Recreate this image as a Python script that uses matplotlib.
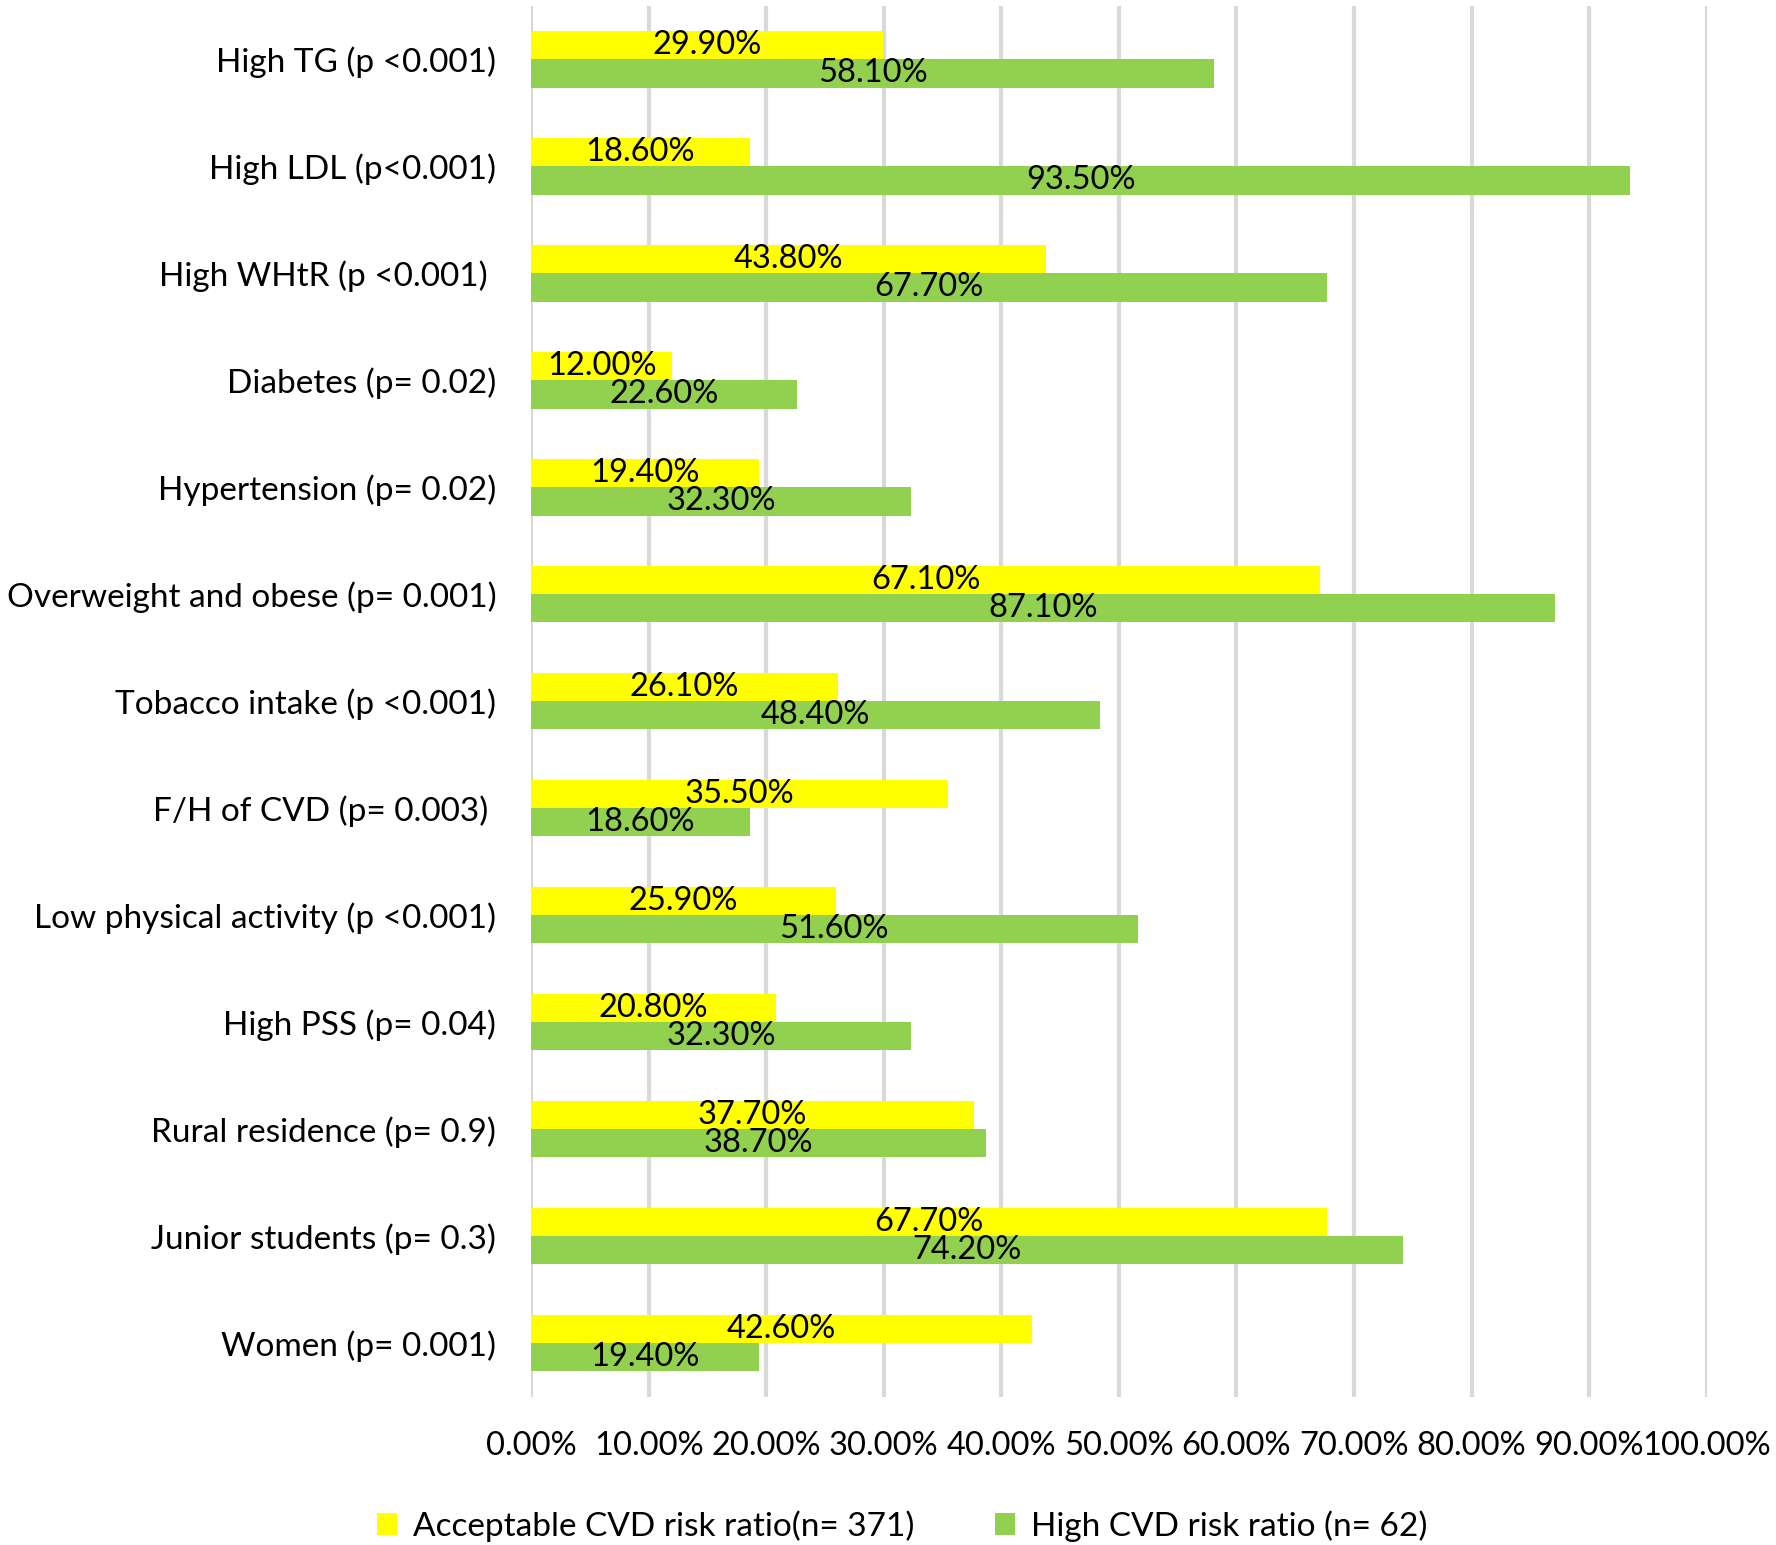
import numpy as np
import matplotlib.pyplot as plt
from matplotlib.ticker import FuncFormatter

plt.rcParams['font.family'] = ['Lato', 'DejaVu Sans']

# categories from top to bottom
labels = [
    "High TG (p <0.001)",
    "High LDL (p<0.001)",
    "High WHtR (p <0.001) ",
    "Diabetes (p= 0.02)",
    "Hypertension (p= 0.02)",
    "Overweight and obese (p= 0.001)",
    "Tobacco intake (p <0.001)",
    "F/H of CVD (p= 0.003) ",
    "Low physical activity (p <0.001)",
    "High PSS (p= 0.04)",
    "Rural residence (p= 0.9)",
    "Junior students (p= 0.3)",
    "Women (p= 0.001)",
]
acceptable = [29.9, 18.6, 43.8, 12.0, 19.4, 67.1, 26.1, 35.5, 25.9, 20.8, 37.7, 67.7, 42.6]
high_risk = [58.1, 93.5, 67.7, 22.6, 32.3, 87.1, 48.4, 18.6, 51.6, 32.3, 38.7, 74.2, 19.4]
ticks = np.arange(0, 101, 10)

yellow = "#FFFF00"
green = "#92D050"

fig = plt.figure(figsize=(17.76, 15.45), dpi=100)
ax = fig.add_axes([0.299, 0.0961, 0.662, 0.9002])

y = np.arange(len(labels))
h = 0.265
b1 = ax.barh(y - h / 2, acceptable, height=h, color=yellow,
             label="Acceptable CVD risk ratio(n= 371)", zorder=2)
b2 = ax.barh(y + h / 2, high_risk, height=h, color=green,
             label="High CVD risk ratio (n= 62)", zorder=2)

# centered data labels like Excel
for bars, vals in ((b1, acceptable), (b2, high_risk)):
    for r, v in zip(bars, vals):
        ax.text(r.get_x() + r.get_width() / 2, r.get_y() + r.get_height() / 2,
                f"{v:.2f}%", ha="center", va="center", fontsize=23.5, zorder=3)

ax.set_ylim(len(labels) - 0.5, -0.5)
ax.set_xlim(0, 100)
ax.set_yticks(y)
ax.set_yticklabels(labels, fontsize=24)
ax.set_xticks(ticks)
ax.xaxis.set_major_formatter(FuncFormatter(lambda v, p: f"{v:.2f}%"))
ax.tick_params(axis="x", labelsize=23.5, length=0, pad=25)
ax.tick_params(axis="y", length=0, pad=25)
ax.grid(axis="x", color="#D9D9D9", linewidth=3, zorder=0)
for s in ax.spines.values():
    s.set_visible(False)

fig.legend(handles=[b1, b2], loc="center", bbox_to_anchor=(0.508, 0.0123),
           ncol=2, frameon=False, fontsize=24, handlelength=0.6, handleheight=0.6,
           handletextpad=0.5, columnspacing=2.4)

fig.savefig("out.png", dpi=100)
